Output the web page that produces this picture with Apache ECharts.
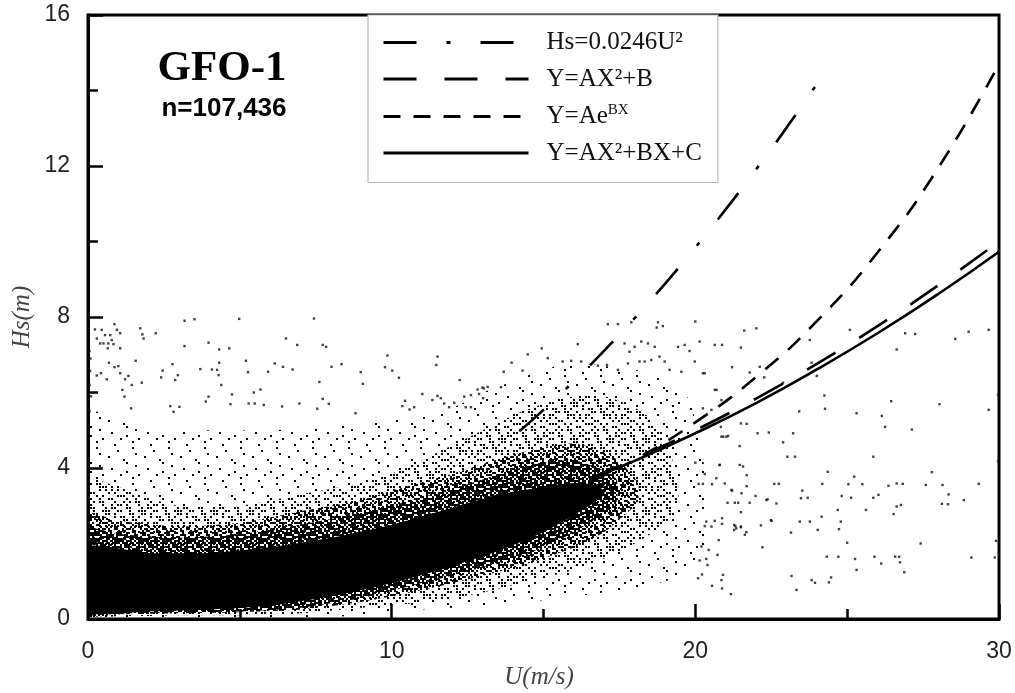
<!DOCTYPE html>
<html>
<head>
<meta charset="utf-8">
<script src="https://cdn.jsdelivr.net/npm/echarts@6/dist/echarts.min.js"></script>
<style>html,body{margin:0;padding:0;background:#fff}#chart{width:1015px;height:693px}</style>
</head>
<body>
<div id="chart"></div>
<script>
// ---------------- data ----------------
const xTickValues = [0, 10, 20, 30];
const yTickValues = [0, 4, 8, 12, 16];

const seriesNames = ['Hs=0.0246U\u00B2', 'Y=AX\u00B2+B', 'Y=Ae^BX', 'Y=AX\u00B2+BX+C'];

// fitted curves, [U, Hs]
const curveHsU2 = [[14.2,4.97],[15,5.54],[16,6.30],[17,7.11],[18,7.97],[19,8.88],[20,9.84],[21,10.85],[22,11.91],[23,13.01],[24,14.17]];
const curveAX2B = [[16.5,3.72],[18,4.24],[20,5.00],[22,5.84],[24,6.76],[26,7.76],[28,8.84],[30,10.0]];
const curveExp  = [[16.5,3.62],[18,4.22],[20,5.21],[22,6.41],[24,7.89],[26,9.71],[28,11.95],[30,14.7]];
const curveQuad = [[16.5,3.70],[18,4.19],[20,4.92],[22,5.72],[24,6.61],[26,7.57],[28,8.61],[30,9.73]];

// density envelopes of the dense scatter cloud: [U, lowHs, highHs]
const lightBand = [[0,0.05,5.5],[1,0.05,5.3],[2,0.05,5.0],[4,0.05,5.0],[6,0.05,5.0],[8,0.05,5.1],[10,0.2,5.3],[12,0.3,5.6],[13,0.35,6.0],[14,0.45,6.3],[15,0.5,6.6],[16,0.6,6.8],[17,0.7,6.7],[18,0.8,6.6],[19,1.0,6.4],[19.8,1.3,5.8],[20.3,2.0,4.0]];
const mediumBand = [[0,0.08,3.7],[1,0.08,3.5],[2,0.08,3.2],[3,0.1,3.0],[5,0.1,3.0],[7,0.15,3.3],[9,0.3,3.6],[10,0.35,3.85],[11,0.45,4.2],[12,0.55,4.6],[13,0.7,5.0],[14,0.9,5.4],[15,1.1,5.7],[16,1.3,5.9],[17,1.6,5.9],[18,2.0,5.6],[18.8,2.4,5.1],[19.4,2.9,3.8]];
const denseBand = [[0,0.12,2.8],[1,0.12,2.6],[3,0.15,2.45],[5,0.18,2.55],[7,0.25,2.85],[9,0.45,3.15],[10,0.6,3.4],[12,0.95,3.85],[14,1.35,4.35],[15,1.6,4.55],[16,1.9,4.65],[17,2.3,4.45],[17.6,2.7,4.1],[18.1,3.1,3.6]];
const heavyBand = [[0,0.15,2.4],[1,0.15,2.25],[3,0.18,2.15],[5,0.2,2.25],[7,0.3,2.5],[9,0.55,2.8],[10,0.75,3.0],[12,1.15,3.45],[14,1.6,3.95],[15,1.9,4.15],[16,2.3,4.2],[16.8,2.7,4.0],[17.4,3.1,3.7]];
const coreBand = [[0,0.2,1.9],[2,0.2,1.75],[4,0.25,1.75],[6,0.35,1.9],[8,0.6,2.15],[10,0.95,2.5],[12,1.4,2.95],[13.5,1.8,3.3],[15,2.3,3.5],[16,2.75,3.6],[16.7,3.1,3.55],[17.0,3.3,3.4]];

// isolated observations outside the dense cloud, [U, Hs]
const outlierPoints = [
[0.23,7.67],[0.45,7.66],[0.87,7.81],[0.95,7.66],[1.06,7.57],[0.56,7.52],[0.73,7.52],[0.29,7.43],[0.40,7.30],[0.51,7.30],[0.67,7.30],[0.78,7.39],[0.84,7.28],[1.06,7.17],[0.65,7.17],[1.72,7.70],[1.79,7.54],[1.83,7.43],[2.23,7.57],[3.18,7.90],[3.51,7.94],[4.98,7.95],[7.44,7.96],[3.18,7.23],[3.97,7.32],[4.32,7.14],[4.65,7.17],[6.52,7.43],[6.89,7.26],[7.73,7.26],[7.84,7.21],[1.57,6.84],[0.69,6.79],[0.87,6.67],[1.00,6.70],[1.06,6.51],[0.07,6.57],[0.29,6.45],[0.43,6.51],[0.62,6.35],[1.22,6.35],[1.33,6.44],[1.44,6.20],[1.77,6.26],[2.46,6.58],[2.41,6.40],[2.78,6.75],[2.87,6.33],[2.96,6.46],[3.70,6.62],[4.08,6.61],[4.25,6.60],[4.32,6.79],[4.30,6.46],[4.39,6.20],[5.20,6.84],[5.27,6.54],[5.93,6.55],[6.15,6.77],[6.42,6.68],[6.74,6.61],[7.62,6.28],[8.02,6.68],[8.35,6.75],[8.98,6.54],[9.05,6.23],[9.86,6.98],[9.78,6.67],[10.02,6.58],[10.24,6.39],[11.51,6.95],[11.47,6.73],[12.24,6.33],[12.83,6.08],[12.99,6.13],[5.46,6.00],[5.68,6.08],[4.74,5.95],[3.97,5.89],[3.88,5.76],[4.69,5.69],[5.29,5.71],[5.49,5.71],[5.79,5.67],[6.39,5.63],[6.96,5.71],[7.73,5.83],[7.93,5.70],[7.55,5.57],[8.81,5.45],[10.44,5.78],[10.35,5.64],[10.59,5.55],[10.74,5.61],[11.01,5.96],[11.34,5.80],[11.51,5.91],[11.62,5.85],[11.73,5.71],[11.89,5.61],[12.06,5.73],[12.39,5.89],[12.61,5.93],[12.44,5.61],[12.61,5.61],[12.88,5.96],[13.01,5.85],[2.71,5.64],[2.82,5.49],[3.01,5.62],[1.42,5.58],[1.20,5.89],[1.13,6.07],
[0.05,7.1],[0.08,6.9],[0.05,6.2],[0.1,5.9],[0.05,5.5],
[17.12,7.81],[17.45,7.81],[17.89,7.86],[18.77,7.86],[18.93,7.76],[18.73,7.72],[20.00,7.88],[16.13,7.28],[14.94,7.17],[14.48,7.01],[13.95,6.79],[13.69,6.55],[13.16,6.15],[13.03,6.11],[13.60,6.14],[14.31,6.58],[15.14,6.91],[15.63,6.82],[15.91,6.84],[16.24,6.82],[16.79,6.71],[17.09,6.73],[17.67,7.30],[17.83,7.08],[18.00,7.21],[18.22,7.35],[18.44,7.30],[18.66,7.21],[18.33,6.82],[18.55,6.86],[18.82,6.95],[18.99,6.82],[19.15,6.60],[19.43,7.21],[19.65,7.26],[19.81,7.10],[20.14,7.35],[20.64,7.26],[20.88,7.26],[17.78,6.77],[18.16,6.82],[17.45,6.60],[19.98,6.82],[19.54,6.55],[20.25,6.51],[20.64,6.07],[20.86,5.80],[20.25,5.58],[20.53,5.54],[20.84,5.09],[20.92,4.83],[21.08,4.85],[20.00,4.14],[20.80,4.08],
[21.61,7.64],[22.01,7.70],[21.50,7.19],[25.09,7.66],[26.91,7.57],[27.24,7.55],[26.63,7.14],[28.56,7.42],[29.00,7.61],[29.66,7.66],[23.77,7.39],[23.83,6.79],[24.00,6.44],[22.89,6.26],[21.21,6.67],[21.79,6.53],[22.12,6.68],[22.27,6.40],[20.31,6.51],[20.70,6.07],[24.25,5.92],[24.27,5.57],[23.42,5.50],[25.31,5.45],[26.45,5.77],[26.14,5.38],[26.25,5.09],[28.04,5.69],[27.13,5.02],[29.66,5.54],[29.97,5.94],[21.50,5.18],[21.69,5.17],[22.05,4.92],[22.42,4.94],[23.22,4.92],[22.89,4.68],[21.46,4.58],[20.86,4.83],[21.02,4.83],[23.03,4.30],[23.28,4.30],[25.86,4.30],[29.97,4.18],[24.36,3.90],[25.23,3.77],[24.18,3.58],[25.04,3.57],[25.50,3.57],[26.36,3.53],[26.63,3.59],[26.83,3.58],[27.59,3.55],[28.14,3.55],[29.33,3.58],[27.79,3.89],[28.34,3.30],[28.12,3.05],[28.32,3.04],[28.84,3.15],[26.03,3.29],[25.86,3.21],[24.82,3.26],[25.13,3.21],[23.52,3.40],[23.70,3.21],[23.48,3.20],[22.67,3.06],[22.34,3.15],[26.63,2.98],[26.77,3.02],[26.53,2.78],[25.62,2.89],[24.69,2.89],[24.16,2.71],[24.79,2.58],[24.73,2.38],[23.77,2.58],[23.44,2.58],[22.51,2.60],[23.15,2.29],[24.03,2.36],[25.00,2.02],[27.42,2.00],[29.90,2.07],[24.33,1.65],[24.71,1.65],[25.26,1.59],[25.90,1.65],[26.12,1.47],[26.58,1.65],[26.71,1.65],[26.74,1.50],[26.88,1.24],[25.31,1.30],[29.09,1.63],[29.86,1.63],[23.17,1.14],[23.83,1.03],[23.94,0.96],[24.40,0.97],[24.47,1.10],[23.33,0.77],[22.21,1.90],[22.49,2.62],[22.16,2.48],[21.68,2.30],[21.50,2.45],[21.28,2.49],[21.35,2.40],[20.88,2.52],[20.53,2.45],[20.77,2.09],[21.17,0.66],[20.88,0.81],[20.86,1.03],[20.91,1.17],[20.55,0.88],[20.09,1.08],[20.22,1.18],[20.40,1.43],[20.36,1.59],[20.14,1.55],[20.44,1.83],[20.20,1.92],[20.73,1.70],[21.52,3.33],[21.69,3.52],[21.98,3.26],[22.60,3.58],[22.75,3.58],[20.97,3.59],[21.21,3.40],[21.30,3.08],[21.41,3.08],[21.79,3.08],[21.50,2.83],[22.38,3.17],[21.69,3.81],[21.57,4.04],[21.46,4.08],[20.69,3.73],[20.55,3.57],[20.25,3.58],[20.11,3.58],[20.31,3.84],[20.80,4.08],[21.19,3.42],[21.06,3.08],[20.88,2.67],[20.64,2.60],[20.36,2.58],[20.31,2.46],[21.28,2.36],[21.32,2.46],[21.50,2.43],[21.63,2.23]
];

// ---------------- styling helpers ----------------
// fixed dither matrix used to texture the scatter density envelopes
const DITHER = [
"507139284615","921648035792","368205917403","143796520861",
"780512463928","254983170346","619034857212","835271694053",
"072648319587","496310782634","128957046179","763482915028"];
function makeTile(level, dot, cell) {
  const c = document.createElement('canvas');
  c.width = 12 * cell; c.height = 12 * cell;
  const ctx = c.getContext('2d');
  ctx.fillStyle = '#000';
  for (let r = 0; r < 12; r++) for (let k = 0; k < 12; k++) {
    if (+DITHER[r][k] < level) ctx.fillRect(k * cell, r * cell, dot, dot);
  }
  return { image: c, repeat: 'repeat' };
}
function bandSeries(name, band, fill) {
  return {
    type: 'custom', name: name, silent: true, clip: true, data: band, encode: { x: 0, y: [1, 2] }, z: 1,
    renderItem: function (params, api) {
      if (params.dataIndex !== 0) return null;
      const top = band.map(r => api.coord([r[0], r[2]]));
      const bot = band.slice().reverse().map(r => api.coord([r[0], r[1]]));
      // push the U=0 edge against the axis line so the cloud touches it
      top[0][0] -= 4; bot[bot.length - 1][0] -= 4;
      return { type: 'polygon', shape: { points: top.concat(bot), smooth: 0.2 }, style: { fill: fill, stroke: null } };
    }
  };
}
function curveSeries(name, data, dash) {
  return {
    type: 'line', name: name, data: data, smooth: true, symbol: 'none', z: 5,
    itemStyle: { color: '#000' },
    lineStyle: { color: '#000', width: 2.6, type: dash }
  };
}

const chart = echarts.init(document.getElementById('chart'), null, { renderer: 'canvas' });
const axisFont = { fontFamily: 'Liberation Sans', fontSize: 23, color: '#222' };
chart.setOption({
  animation: false,
  grid: { left: 88, right: 16, top: 15, bottom: 74, show: true, borderColor: '#000', borderWidth: 3, backgroundColor: 'transparent' },
  xAxis: {
    type: 'value', min: xTickValues[0], max: xTickValues[xTickValues.length - 1], interval: xTickValues[1] - xTickValues[0],
    axisLine: { lineStyle: { color: '#000', width: 3 } },
    axisTick: { inside: true, length: 15, lineStyle: { color: '#000', width: 2.5 } },
    minorTick: { show: true, splitNumber: 2, length: 10, lineStyle: { color: '#000', width: 2.5 } },
    splitLine: { show: false },
    axisLabel: Object.assign({ margin: 21 }, axisFont)
  },
  yAxis: {
    type: 'value', min: yTickValues[0], max: yTickValues[yTickValues.length - 1], interval: yTickValues[1] - yTickValues[0],
    axisLine: { lineStyle: { color: '#000', width: 3 } },
    axisTick: { inside: true, length: 15, lineStyle: { color: '#000', width: 2.5 } },
    minorTick: { show: true, splitNumber: 2, length: 10, lineStyle: { color: '#000', width: 2.5 } },
    splitLine: { show: false },
    axisLabel: Object.assign({ margin: 18 }, axisFont)
  },
  legend: {
    data: seriesNames, orient: 'vertical', left: 368, top: 15,
    itemWidth: 145, itemHeight: 14, itemGap: 11.5,
    padding: [15, 16, 17, 14], backgroundColor: '#fff', borderColor: '#bbb', borderWidth: 1.2,
    selectedMode: false,
    itemStyle: { opacity: 0, borderWidth: 0 },
    lineStyle: { width: 3, opacity: 1 },
    formatter: function (name) {
      if (name === seriesNames[2]) return '{a|Y=Ae}{b|BX}';
      return '{a|' + name + '}';
    },
    textStyle: {
      fontFamily: 'Liberation Serif', fontSize: 25, color: '#111', lineHeight: 24, padding: [0, 0, 0, 13],
      rich: {
        a: { fontFamily: 'Liberation Serif', fontSize: 25, color: '#111', lineHeight: 24 },
        b: { fontFamily: 'Liberation Serif', fontSize: 15, color: '#111', padding: [0, 0, 12, 0] }
      }
    }
  },
  graphic: [
    { type: 'text', x: 222, y: 69, style: { text: 'GFO-1', fontFamily: 'Liberation Serif', fontWeight: 'bold', fontSize: 43, fill: '#000', align: 'center', verticalAlign: 'middle' } },
    { type: 'text', x: 224, y: 109, style: { text: 'n=107,436', fontFamily: 'Liberation Sans', fontWeight: 'bold', fontSize: 26, fill: '#000', align: 'center', verticalAlign: 'middle' } },
    { type: 'text', x: 539, y: 677, style: { text: 'U(m/s)', fontFamily: 'Liberation Serif', fontStyle: 'italic', fontSize: 25, fill: '#444', align: 'center', verticalAlign: 'middle' } },
    { type: 'text', x: 22, y: 317, rotation: Math.PI / 2, style: { text: 'Hs(m)', fontFamily: 'Liberation Serif', fontStyle: 'italic', fontSize: 25, fill: '#444', align: 'center', verticalAlign: 'middle' } }
  ],
  series: [
    bandSeries('light', lightBand, makeTile(1, 2, 3)),
    bandSeries('medium', mediumBand, makeTile(4, 2, 3)),
    bandSeries('dense', denseBand, makeTile(4, 2, 2)),
    bandSeries('heavy', heavyBand, makeTile(7, 2, 2)),
    bandSeries('core', coreBand, '#000'),
    { type: 'scatter', name: 'obs', data: outlierPoints, symbol: 'rect', symbolSize: 2.4, itemStyle: { color: '#111' }, silent: true, z: 2 },
    curveSeries(seriesNames[0], curveHsU2, [33, 30, 4, 30]),
    curveSeries(seriesNames[1], curveAX2B, [33, 28]),
    curveSeries(seriesNames[2], curveExp, [17, 13]),
    curveSeries(seriesNames[3], curveQuad, 'solid')
  ]
});
</script>
</body>
</html>
